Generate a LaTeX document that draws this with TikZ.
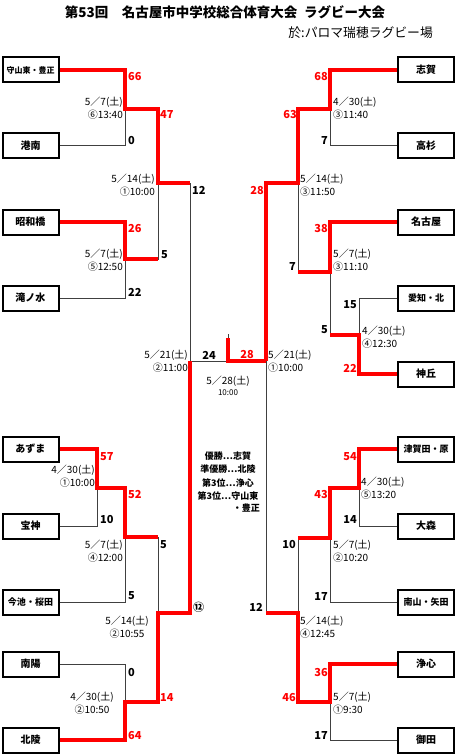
\documentclass[tikz,border=0pt]{standalone}
\usepackage{fontspec}
\setmainfont{Noto Sans CJK JP}
\usepackage{tikz}
\usepackage{xcolor}

\tikzset{
  team/.style={draw, line width=2pt, fill=white, minimum width=56pt, minimum height=25pt, inner sep=0pt, font=\fontsize{10}{10}\selectfont\bfseries},
  win/.style={red, line width=3.5pt},
  lose/.style={black!75, line width=1pt},
  sc/.style={font=\fontsize{11}{11}\selectfont\bfseries, inner sep=0pt},
  dt/.style={font=\fontsize{10}{12.5}\selectfont, inner sep=0pt},
}

\begin{document}
\begin{tikzpicture}[x=1pt, y=-1pt]
\useasboundingbox (0,0) rectangle (456,754);
%% title
\node[font=\fontsize{13.5}{14}\selectfont\bfseries] (title) at (225,12) {第53回\hspace{1em}名古屋市中学校総合体育大会\hspace{0.5em}ラグビー大会};
\node[font=\fontsize{12.8}{13}\selectfont, anchor=east, inner sep=0pt] (place) at (433,33) {於:パロマ瑞穂ラグビー場};

%% teams
\node[team] (moriyama) at (30.5,70) {\fontsize{8}{8}\selectfont 守山東・豊正};
\node[team] (konan) at (30.5,146) {港南};
\node[team] (showa) at (30.5,222) {昭和橋};
\node[team] (takinomizu) at (30.5,298) {滝ノ水};
\node[team] (azuma) at (30.5,449) {あずま};
\node[team] (hoshin) at (30.5,526) {宝神};
\node[team] (imaike) at (30.5,602) {\fontsize{9}{9}\selectfont 今池・桜田};
\node[team] (nanyo) at (30.5,664) {南陽};
\node[team] (hokuryo) at (30.5,740) {北陵};
\node[team] (shiga) at (426,70) {志賀};
\node[team] (takasugi) at (426,146) {高杉};
\node[team] (nagoya) at (426,222) {名古屋};
\node[team] (aichi) at (426,298) {\fontsize{9}{9}\selectfont 愛知・北};
\node[team] (kamioka) at (426,374) {神丘};
\node[team] (tsugata) at (426,449) {\fontsize{9}{9}\selectfont 津賀田・原};
\node[team] (omori) at (426,526) {大森};
\node[team] (minami) at (426,602) {\fontsize{9}{9}\selectfont 南山・矢田};
\node[team] (joshin) at (426,664) {浄心};
\node[team] (mita) at (426,740) {御田};

%% match points
\coordinate (m1) at (125,109);
\coordinate (m2) at (125,259);
\coordinate (m3) at (158,183);
\coordinate (m4) at (97,488);
\coordinate (m5) at (125,537);
\coordinate (m6) at (125,702);
\coordinate (m7) at (158,613);
\coordinate (sL) at (190,361);
\coordinate (final) at (228,361);
\coordinate (champ) at (228,338);
\coordinate (sR) at (266,361);
\coordinate (n1) at (330,109);
\coordinate (n2) at (359,335);
\coordinate (n3) at (330,272);
\coordinate (n4) at (298,183);
\coordinate (n5) at (359,488);
\coordinate (n6) at (330,538);
\coordinate (n7) at (330,702);
\coordinate (n8) at (298,613);

%% losers
\draw[lose] (konan.east) -| (m1);
\draw[lose] (takinomizu.east) -| (m2);
\draw[lose] (m2) -| (m3);
\draw[lose] (m3) -| (sL);
\draw[lose] (hoshin.east) -| (m4);
\draw[lose] (imaike.east) -| (m5);
\draw[lose] (nanyo.east) -| (m6);
\draw[lose] (m5) -| (m7);
\draw[lose] (sL) -- (final);
\draw[lose] (champ) -- ++(0,-4);
\draw[lose] (takasugi.west) -| (n1);
\draw[lose] (aichi.west) -| (n2);
\draw[lose] (n2) -| (n3);
\draw[lose] (n3) -| (n4);
\draw[lose] (omori.west) -| (n5);
\draw[lose] (minami.west) -| (n6);
\draw[lose] (mita.west) -| (n7);
\draw[lose] (n6) -| (n8);
\draw[lose] (n8) -| (sR);

%% winners
\draw[win] (moriyama.east) -| (m1) -| (m3) -- (m3 -| sL);
\draw[win] (showa.east) -| (m2) -- (m2 -| m3);
\draw[win] (azuma.east) -| (m4) -| (m5) -- (m5 -| m7);
\draw[win] (hokuryo.east) -| (m6) -| (m7) -| (sL);
\draw[win] (shiga.west) -| (n1) -| (n4) -| (sR);
\draw[win] (sR) -- (final) -- (champ);
\draw[win] (nagoya.west) -| (n3) -- (n3 -| n4);
\draw[win] (kamioka.west) -| (n2) -- (n2 -| n3);
\draw[win] (tsugata.west) -| (n5) -| (n6) -- (n6 -| n8);
\draw[win] (joshin.west) -| (n7) -| (n8) -- (n8 -| sR);

%% scores left
\node[sc, red, anchor=west] (s1) at (128,77) {66};
\node[sc, anchor=west] (s2) at (128,141) {0};
\node[sc, red, anchor=west] (s3) at (160,115) {47};
\node[sc, anchor=west] (s4) at (192,190) {12};
\node[sc, red, anchor=west] (s5) at (128,229) {26};
\node[sc, anchor=west] (s6) at (161,255) {5};
\node[sc, anchor=west] (s7) at (128,292) {22};
\node[sc, red, anchor=west] (s8) at (100,457) {57};
\node[sc, anchor=west] (s9) at (100,520) {10};
\node[sc, red, anchor=west] (s10) at (128,495) {52};
\node[sc, anchor=west] (s11) at (160,545) {5};
\node[sc, anchor=west] (s12) at (128,596) {5};
\node[sc, anchor=west] (s13) at (193,607) {⑫};
\node[sc, anchor=west] (s14) at (128,672) {0};
\node[sc, red, anchor=west] (s15) at (160,697) {14};
\node[sc, red, anchor=west] (s16) at (128,735) {64};
%% scores right
\node[sc, red, anchor=east] (r1) at (328,77) {68};
\node[sc, anchor=east] (r2) at (328,141) {7};
\node[sc, red, anchor=east] (r3) at (297,115) {63};
\node[sc, red, anchor=east] (r4) at (264,191) {28};
\node[sc, red, anchor=east] (r5) at (328,229) {38};
\node[sc, anchor=east] (r6) at (296,267) {7};
\node[sc, anchor=east] (r7) at (357,305) {15};
\node[sc, anchor=east] (r8) at (328,330) {5};
\node[sc, red, anchor=east] (r9) at (357,368) {22};
\node[sc, red, anchor=east] (r10) at (357,457) {54};
\node[sc, red, anchor=east] (r11) at (328,495) {43};
\node[sc, anchor=east] (r12) at (357,520) {14};
\node[sc, anchor=east] (r13) at (296,545) {10};
\node[sc, anchor=east] (r14) at (328,596) {17};
\node[sc, anchor=east] (r15) at (263,607) {12};
\node[sc, red, anchor=east] (r16) at (328,672) {36};
\node[sc, red, anchor=east] (r17) at (296,697) {46};
\node[sc, anchor=east] (r18) at (328,735) {17};
%% final
\node[sc] (f1) at (209,355) {24};
\node[sc, red] (f2) at (247,355) {28};

%% dates left
\node[dt, align=right, anchor=east] (d1) at (123,108) {5／7(土)\\⑥13:40};
\node[dt, align=right, anchor=east] (d2) at (155,185) {5／14(土)\\①10:00};
\node[dt, align=right, anchor=east] (d3) at (123,260) {5／7(土)\\⑤12:50};
\node[dt, align=right, anchor=east] (d4) at (188,361) {5／21(土)\\②11:00};
\node[dt, align=right, anchor=east] (d5) at (95,476) {4／30(土)\\①10:00};
\node[dt, align=right, anchor=east] (d6) at (123,551) {5／7(土)\\④12:00};
\node[dt, align=center] (d7) at (127,627) {5／14(土)\\②10:55};
\node[dt, align=center] (d8) at (92,703) {4／30(土)\\②10:50};
%% dates right
\node[dt, align=left, anchor=west] (e1) at (333,108) {4／30(土)\\③11:40};
\node[dt, align=left, anchor=west] (e2) at (300,185) {5／14(土)\\③11:50};
\node[dt, align=left, anchor=west] (e3) at (333,260) {5／7(土)\\③11:10};
\node[dt, align=left, anchor=west] (e4) at (362,337) {4／30(土)\\④12:30};
\node[dt, align=left, anchor=west] (e5) at (268,361) {5／21(土)\\①10:00};
\node[dt, align=left, anchor=west] (e6) at (361,488) {4／30(土)\\⑤13:20};
\node[dt, align=left, anchor=west] (e7) at (333,551) {5／7(土)\\②10:20};
\node[dt, align=left, anchor=west] (e8) at (300,627) {5／14(土)\\④12:45};
\node[dt, align=left, anchor=west] (e9) at (333,703) {5／7(土)\\①9:30};

%% final date and results
\node[dt] (fd) at (228,381) {5／28(土)};
\node[dt, font=\fontsize{8}{8}\selectfont] (ft) at (228,393) {10:00};
\node[font=\fontsize{9}{13.2}\selectfont\bfseries, align=center, inner sep=0pt] (res) at (228,476) {優勝…志賀\\準優勝…北陵\\第3位…浄心\\第3位…守山東};
\node[font=\fontsize{9}{9}\selectfont\bfseries, anchor=east, inner sep=0pt] (res2) at (260,508) {・豊正};
\end{tikzpicture}
\end{document}
